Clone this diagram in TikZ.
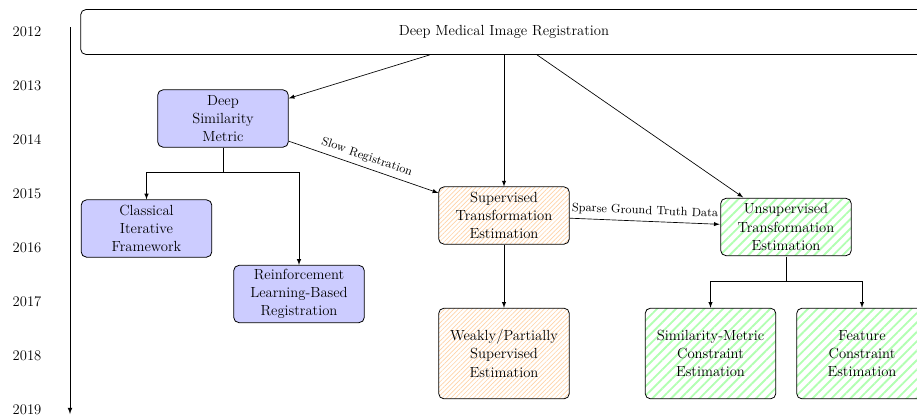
\documentclass[tikz,border=0pt]{standalone}
\usetikzlibrary{patterns,patterns.meta}
\tikzset{
  regnode/.style={draw,line width=0.6pt,rounded corners=4pt,align=center,text width=93pt,minimum height=43pt,inner sep=2.5pt},
  regroot/.style={regnode,text width=630pt,minimum height=33.75pt},
  regmetric/.style={regnode,fill=blue!20},
  regsup/.style={regnode,pattern={Lines[angle=45,distance=2.4pt,line width=0.5pt]},pattern color=orange!35},
  regunsup/.style={regnode,pattern={Lines[angle=45,distance=5pt,line width=1.4pt]},pattern color=green!30},
  regarrow/.style={line width=0.5pt,-latex},
  reglabel/.style={font=\fontsize{9}{11}\selectfont,sloped,above,midway}
}

\begin{document}
\begin{tikzpicture}[x=0.75pt,y=-0.75pt,font=\fontsize{11}{13.6}\selectfont]
\clip (0,0) rectangle (917,419);
% time axis
\foreach \yr [count=\k from 0] in {2012,...,2019}
  \node (yr\yr) at (27,32+54*\k) {\yr};
\coordinate (axtop) at (70,27);
\coordinate (axend) at (70,414);
\draw[regarrow,line width=0.6pt] (axtop) -- (axend);
% boxes
\node[regroot]   (root)  at (504,32)      {Deep Medical Image Registration};
\node[regmetric] (dsm)   at (223,118.5)   {Deep\\Similarity\\Metric};
\node[regmetric] (cif)   at (146.5,228.5) {Classical\\Iterative\\Framework};
\node[regmetric] (rl)    at (299,294)     {Reinforcement\\Learning-Based\\Registration};
\node[regsup]    (sup)   at (504,215.5)   {Supervised\\Transformation\\Estimation};
\node[regsup,minimum height=68pt] (wps) at (504,353.5) {Weakly/Partially\\Supervised\\Estimation};
\node[regunsup]  (unsup) at (786,227)     {Unsupervised\\Transformation\\Estimation};
\node[regunsup,minimum height=68pt] (smc) at (710.5,353.5) {Similarity-Metric\\Constraint\\Estimation};
\node[regunsup,minimum height=68pt] (fce) at (862,353.5)   {Feature\\Constraint\\Estimation};
% links
\draw[regarrow] (root) -- (dsm);
\draw[regarrow] (root) -- (sup);
\draw[regarrow] (root) -- (unsup);
\draw[regarrow] (dsm) -- (sup) node[reglabel] {Slow Registration};
\draw[regarrow] (sup) -- (unsup) node[reglabel] {Sparse Ground Truth Data};
\draw[regarrow] (sup) -- (wps);
\draw[line width=0.5pt] (dsm.south) -- ++(0,25) coordinate (dsmfork);
\draw[regarrow] (dsmfork) -| (cif.north);
\draw[regarrow] (dsmfork) -| (rl.north);
\draw[line width=0.5pt] (unsup.south) -- ++(0,25) coordinate (unsupfork);
\draw[regarrow] (unsupfork) -| (smc.north);
\draw[regarrow] (unsupfork) -| (fce.north);
\end{tikzpicture}
\end{document}
